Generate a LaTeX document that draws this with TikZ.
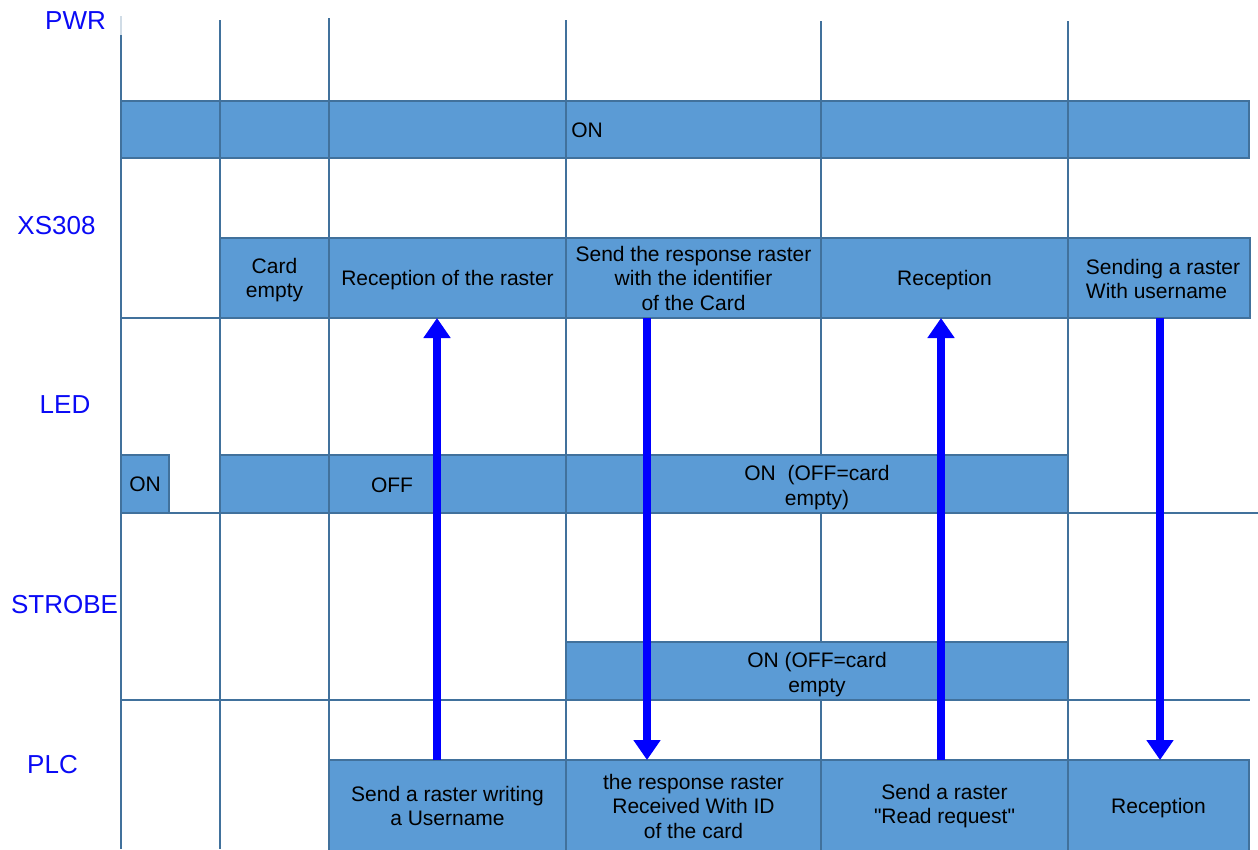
\documentclass[tikz,border=0pt]{standalone}
\usepackage{fontspec}
\setmainfont{Liberation Sans}
\newfontfamily\qfont{Liberation Sans}
\usetikzlibrary{arrows.meta}
\definecolor{boxfill}{RGB}{91,155,213}
\definecolor{boxline}{RGB}{65,113,156}
\definecolor{lblblue}{RGB}{10,10,245}
\definecolor{arrblue}{RGB}{0,0,255}
\begin{document}
\begin{tikzpicture}[x=1pt,y=-1pt,
  grid/.style={draw=boxline,line width=2.2pt},
  cell/.style={draw=boxline,fill=boxfill,line width=2.8pt,rectangle,inner sep=0pt,outer sep=0pt,align=center,font=\fontsize{21}{24.5}\selectfont},
  celltext/.style={inner sep=0pt,font=\fontsize{21}{24.5}\selectfont,align=center},
  lbl/.style={inner sep=0pt,text=lblblue,font=\fontsize{26}{30}\selectfont},
  sig/.style={draw=arrblue,line width=8pt,-{Triangle[width=26pt,length=20pt]}}]
\useasboundingbox (0,0) rectangle (1258,849);
\clip (0,0) rectangle (1258,849);
% grid
\draw[grid,boxline!25,line width=1.5pt] (121,16) -- (121,35);
\draw[grid] (121,35) -- (121,849);
\draw[grid] (220,20) -- (220,849);
\draw[grid] (329,18) -- (329,849);
\draw[grid] (566,20) -- (566,849);
\draw[grid] (821,21) -- (821,849);
\draw[grid] (1068,21) -- (1068,849);
\draw[grid] (121,318) -- (1250,318);
\draw[grid] (121,513) -- (1258,513);
\draw[grid] (121,700) -- (1250,700);
% labels
\node[lbl] (lpwr) at (75.5,21) {PWR};
\node[lbl] (lxs) at (56.5,225.5) {XS308};
\node[lbl] (lled) at (65,405) {LED};
\node[lbl] (lstr) at (64.5,604.5) {STROBE};
\node[lbl] (lplc) at (52.5,764.5) {PLC};
% PWR row
\node[cell,minimum width=99pt,minimum height=57pt] (p1) at (170.5,129.5) {};
\node[cell,minimum width=109pt,minimum height=57pt] (p2) at (274.5,129.5) {};
\node[cell,minimum width=237pt,minimum height=57pt] (p3) at (447.5,129.5) {};
\node[cell,minimum width=255pt,minimum height=57pt] (p4) at (693.5,129.5) {};
\node[cell,minimum width=247pt,minimum height=57pt] (p5) at (944.5,129.5) {};
\node[cell,minimum width=181pt,minimum height=57pt] (p6) at (1158.5,129.5) {};
\node[celltext] (pon) at (587,130.5) {ON};
% XS308 row
\node[cell,minimum width=109pt,minimum height=80pt] (x1) at (274.5,278) {};
\node[celltext] (x1t) at (274.5,280) {Card\\empty};
\node[cell,minimum width=237pt,minimum height=80pt] (x2) at (447.5,278) {};
\node[celltext] (x2t) at (447.5,280) {Reception of the raster};
\node[cell,minimum width=255pt,minimum height=80pt] (x3) at (693.5,278) {Send the response raster\\with the identifier\\of the Card};
\node[cell,minimum width=247pt,minimum height=80pt] (x4) at (944.5,278) {};
\node[celltext] (x4t) at (944.5,280) {Reception};
\node[cell,minimum width=182pt,minimum height=80pt] (x5) at (1159,278) {};
\node[celltext,align=left] (x5t) at (1163,279) {Sending a raster\\With username};
% LED row
\node[cell,minimum width=48pt,minimum height=58pt] (l0) at (145,484) {ON};
\node[cell,minimum width=109pt,minimum height=58pt] (l1) at (274.5,484) {};
\node[cell,minimum width=237pt,minimum height=58pt] (l2) at (447.5,484) {};
\node[celltext] (l2t) at (392,485) {OFF};
\node[cell,minimum width=502pt,minimum height=58pt] (l3) at (817,484) {};
\node[celltext] (l3t) at (817,487.5) {ON\ \ (OFF=card\\empty)};
% STROBE row
\node[cell,minimum width=502pt,minimum height=58pt] (s1) at (817,671) {};
\node[celltext] (s1t) at (817,674.5) {ON (OFF=card\\empty};
% PLC row
\node[cell,minimum width=237pt,minimum height=92pt] (c1) at (447.5,806) {Send a raster writing\\a Username};
\node[cell,minimum width=255pt,minimum height=92pt] (c2) at (693.5,806) {the response raster\\Received With ID\\of the card};
\node[cell,minimum width=247pt,minimum height=92pt] (c3) at (944.5,806) {Send a raster\\{\qfont"}Read request{\qfont"}};
\node[cell,minimum width=181pt,minimum height=92pt] (c4) at (1158.5,806) {};
\node[celltext] (c4t) at (1158.5,808) {Reception};
% signals
\draw[sig] ([xshift=-10.5pt]c1.north) -- ([xshift=-10.5pt]x2.south);
\draw[sig] ([xshift=-46.5pt]x3.south) -- ([xshift=-46.5pt]c2.north);
\draw[sig] ([xshift=-3.5pt]c3.north) -- ([xshift=-3.5pt]x4.south);
\draw[sig] ([xshift=1pt]x5.south) -- ([xshift=1.5pt]c4.north);
\end{tikzpicture}
\end{document}
